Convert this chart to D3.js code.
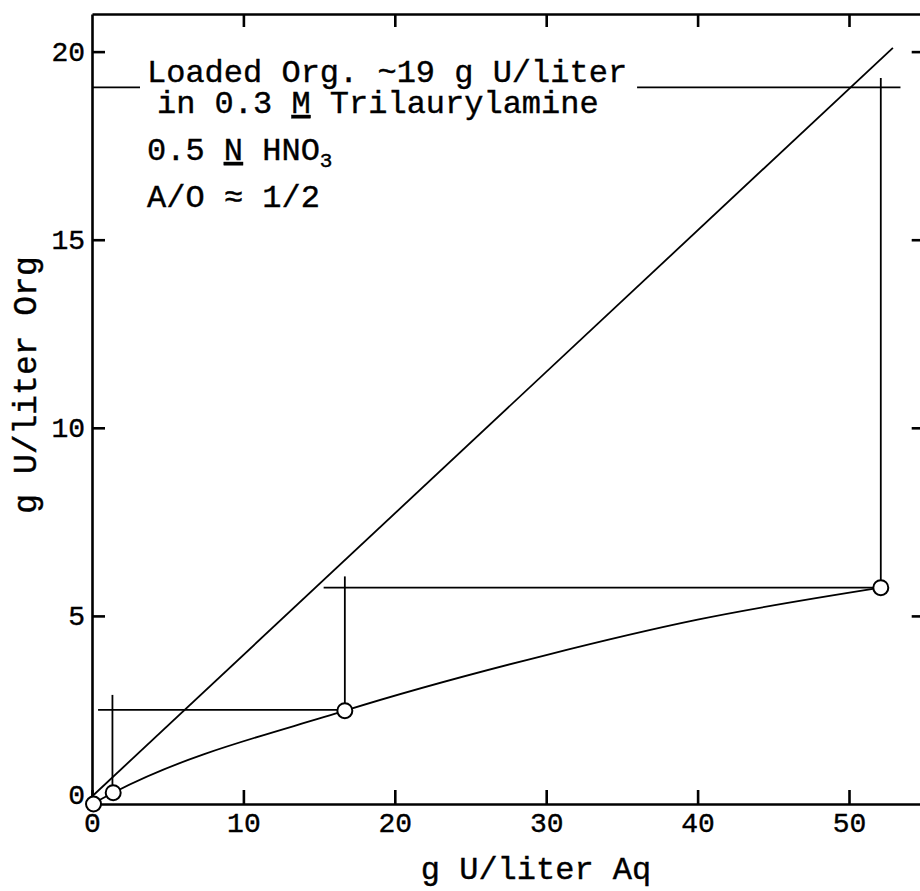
<!DOCTYPE html>
<html>
<head>
<meta charset="utf-8">
<script src="https://cdn.jsdelivr.net/npm/d3@7"></script>
<style>
  body { margin: 0; background: #fff; }
  svg { display: block; }
  .axis path, .axis line { stroke: #000; stroke-width: 2.6; }
  .axis text { font-family: "Liberation Mono", monospace; font-size: 28px; fill: #000; stroke: #000; stroke-width: 0.4; }
  .lbl { font-family: "Liberation Mono", monospace; font-size: 32px; fill: #000; stroke: #000; stroke-width: 0.4; }
</style>
</head>
<body>
<svg id="chart"></svg>
<script>
// equilibrium curve
var curveX = [0, 1.4, 16.7, 30, 40, 52.1];
var curveY = [0, 0.3, 2.48, 3.96, 4.9, 5.75];

// operating line end points
var opX = [0, 52.9];
var opY = [0.2, 20.1];

// stage points (circles)
var stageX = [52.1, 16.7, 1.4, 0.1];
var stageY = [5.75, 2.48, 0.3, 0];

// horizontal step lines
var hY = [19.05, 5.75, 2.5];
var hX0 = [0, 15.3, 0.4];
var hX1 = [53.4, 52.1, 16.7];

// vertical step lines
var vX = [52.1, 16.7, 1.35];
var vY0 = [5.75, 2.48, 0.3];
var vY1 = [19.3, 6.05, 2.9];

var xTicks = [0, 10, 20, 30, 40, 50];
var yTicks = [0, 5, 10, 15, 20];

var W = 920, H = 891;
var margin = { top: 14, left: 92, bottom: 87 };

var svg = d3.select("#chart").attr("width", W).attr("height", H);

var x = d3.scaleLinear().domain([0, 55]).range([margin.left, margin.left + 55 * 15.14]);
var y = d3.scaleLinear().domain([0, 21]).range([H - margin.bottom, margin.top]);

// frame / axes
svg.append("g").attr("class", "axis")
    .attr("transform", "translate(0," + y(0) + ")")
    .call(d3.axisBottom(x).tickValues(xTicks).tickSize(-14).tickSizeOuter(0))
    .call(function(g) {
        g.selectAll("text").attr("dy", null).attr("y", 28);
    });

svg.append("g").attr("class", "axis")
    .attr("transform", "translate(" + x(0) + ",0)")
    .call(d3.axisLeft(y).tickValues(yTicks).tickSize(-13).tickSizeOuter(0).tickPadding(7))
    .call(function(g) {
        g.selectAll(".tick").filter(function(d) { return d === 0; })
            .select("text").attr("y", -9);
        g.selectAll(".tick").filter(function(d) { return d === 0; })
            .select("line").remove();
    });

svg.append("g").attr("class", "axis")
    .attr("transform", "translate(0," + y(21) + ")")
    .call(d3.axisTop(x).tickValues(xTicks.slice(1)).tickSize(-13).tickSizeOuter(0).tickFormat(""));

svg.append("g").attr("class", "axis")
    .attr("transform", "translate(" + x(55) + ",0)")
    .call(d3.axisRight(y).tickValues(yTicks.slice(1)).tickSize(-13).tickSizeOuter(0).tickFormat(""));

// axis titles
svg.append("text").attr("class", "lbl")
    .attr("x", 536).attr("y", 879)
    .attr("text-anchor", "middle")
    .text("g U/liter Aq");

svg.append("text").attr("class", "lbl")
    .attr("transform", "translate(36,385) rotate(-90)")
    .attr("text-anchor", "middle")
    .style("font-size", "33px")
    .text("g U/liter Org");

var plot = svg.append("g");
var line = d3.line();

// step lines
hY.forEach(function(v, i) {
    plot.append("path")
        .attr("d", line([[x(hX0[i]), y(v)], [x(hX1[i]), y(v)]]))
        .attr("stroke", "#000").attr("stroke-width", 1.8).attr("fill", "none");
});
vX.forEach(function(v, i) {
    plot.append("path")
        .attr("d", line([[x(v), y(vY0[i])], [x(v), y(vY1[i])]]))
        .attr("stroke", "#000").attr("stroke-width", 1.8).attr("fill", "none");
});

// operating line
plot.append("path")
    .attr("d", line(opX.map(function(d, i) { return [x(d), y(opY[i])]; })))
    .attr("stroke", "#000").attr("stroke-width", 1.8).attr("fill", "none");

// equilibrium curve
plot.append("path")
    .attr("d", d3.line().curve(d3.curveMonotoneX)(curveX.map(function(d, i) { return [x(d), y(curveY[i])]; })))
    .attr("stroke", "#000").attr("stroke-width", 1.8).attr("fill", "none");

// circles
plot.selectAll("circle")
    .data(stageX)
    .enter().append("circle")
    .attr("cx", function(d) { return x(d); })
    .attr("cy", function(d, i) { return y(stageY[i]); })
    .attr("r", 7.5)
    .attr("fill", "#fff")
    .attr("stroke", "#000")
    .attr("stroke-width", 2);

// annotation
var note = svg.append("g");
var bg = note.append("rect").attr("fill", "#fff");
var t1 = note.append("text").attr("class", "lbl").attr("x", 147).attr("y", 82)
    .text("Loaded Org. ~19 g U/liter");
var t2 = note.append("text").attr("class", "lbl").attr("x", 157).attr("y", 113);
t2.append("tspan").text("in 0.3 ");
t2.append("tspan").attr("text-decoration", "underline").text("M");
t2.append("tspan").text(" Trilaurylamine");

var t3 = note.append("text").attr("class", "lbl").attr("x", 147).attr("y", 160);
t3.append("tspan").text("0.5 ");
t3.append("tspan").attr("text-decoration", "underline").text("N");
t3.append("tspan").text(" HNO");
t3.append("tspan").attr("font-size", "21px").attr("dy", 7).text("3");

note.append("text").attr("class", "lbl").attr("x", 147).attr("y", 207)
    .text("A/O \u2248 1/2");

var b1 = t1.node().getBBox(), b2 = t2.node().getBBox();
var bx0 = Math.min(b1.x, b2.x) - 7, bx1 = Math.max(b1.x + b1.width, b2.x + b2.width) + 10;
bg.attr("x", bx0).attr("y", b1.y + 6)
    .attr("width", bx1 - bx0).attr("height", b2.y + b2.height - b1.y - 12);
</script>
</body>
</html>
